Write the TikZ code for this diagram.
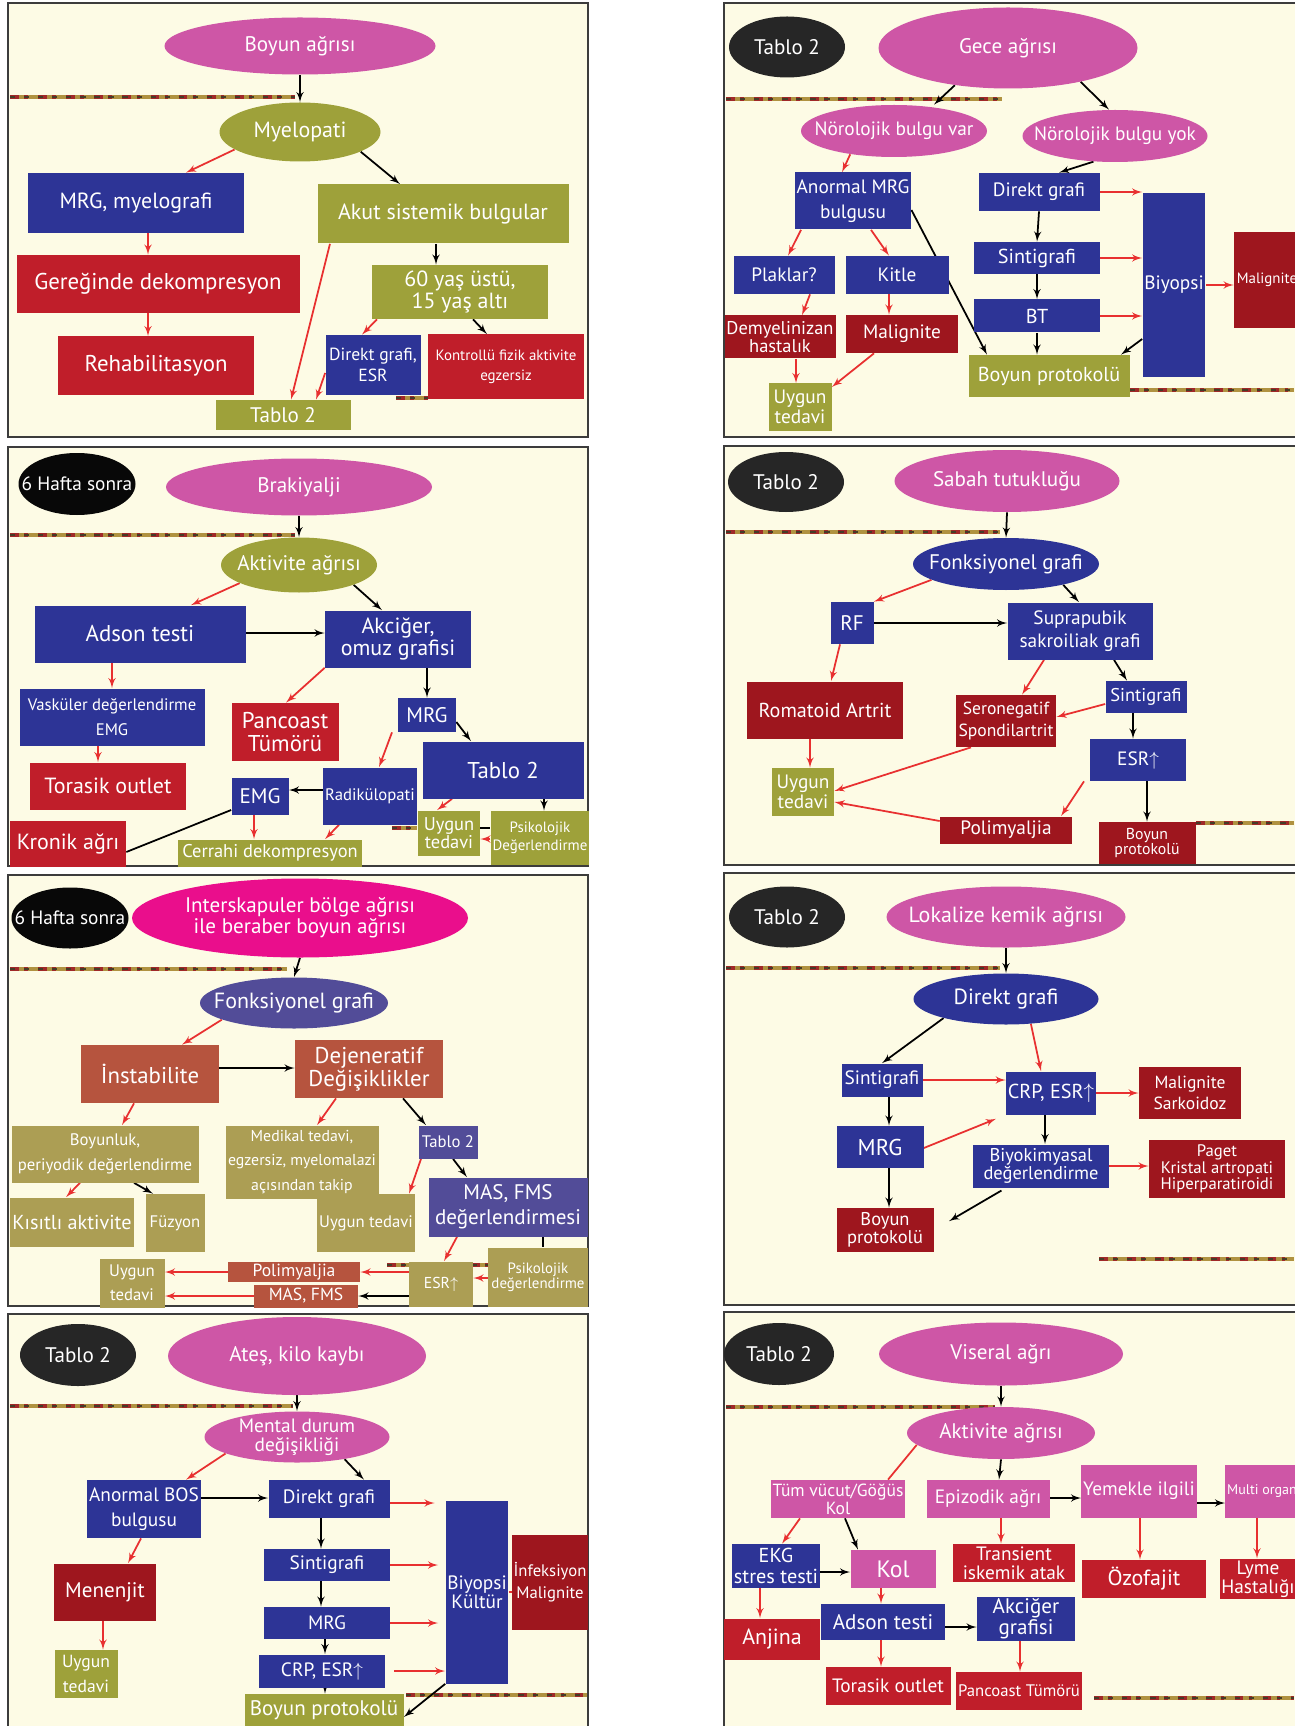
\documentclass[tikz,border=0pt]{standalone}
\usepackage{fontspec}
\setmainfont{PT Sans}
\usetikzlibrary{arrows,shapes.geometric}

\definecolor{pinkE}{RGB}{206,86,166}
\definecolor{magE}{RGB}{234,14,140}
\definecolor{oliveC}{RGB}{158,161,58}
\definecolor{navyC}{RGB}{45,52,150}
\definecolor{purpC}{RGB}{82,76,152}
\definecolor{redC}{RGB}{192,30,42}
\definecolor{drkC}{RGB}{158,22,30}
\definecolor{brownC}{RGB}{182,84,62}
\definecolor{khakiC}{RGB}{172,158,84}
\definecolor{darkE}{RGB}{38,38,38}
\definecolor{blackE}{RGB}{8,8,8}
\definecolor{creamC}{RGB}{253,251,229}
\definecolor{arrowR}{RGB}{232,48,48}
\definecolor{frameC}{RGB}{60,60,60}
\definecolor{stripeA}{RGB}{176,146,64}
\definecolor{stripeB}{RGB}{160,40,40}
\definecolor{stripeC}{RGB}{70,60,40}

\pgfdeclarelayer{bg}
\pgfdeclarelayer{mid}
\pgfsetlayers{bg,mid,main}

% decorative band
\newcommand\stripe[3]{%
  \draw[line width=1.8pt, stripeA] (#1,#3) -- (#2,#3);
  \draw[line width=1.8pt, stripeB, dash pattern=on 5pt off 3pt on 2pt off 6pt] (#1,#3) -- (#2,#3);
  \draw[line width=0.7pt, stripeC, dash pattern=on 3pt off 5pt] (#1,#3) -- (#2,#3);}

\begin{document}
\begin{tikzpicture}[x=0.02cm,y=-0.02cm,>=latex']
	\tikzset{bx/.style = {rectangle,inner sep=1pt,align=center,text=white}}
	\tikzset{el/.style = {ellipse,inner sep=0pt}}
	\tikzset{sz/.style 2 args = {minimum width=#1*0.02cm,minimum height=#2*0.02cm}}
	\tikzset{fs/.style = {font=\fontsize{#1}{#1}\selectfont}}
	\tikzset{every label/.style = {text=white,align=center,inner sep=0pt,fs=12}}
	\tikzset{bluebx/.style = {bx,fill=navyC}}
	\tikzset{redbx/.style = {bx,fill=redC}}
	\tikzset{drkbx/.style = {bx,fill=drkC}}
	\tikzset{olivebx/.style = {bx,fill=oliveC}}
	\tikzset{khakibx/.style = {bx,fill=khakiC}}
	\tikzset{brownbx/.style = {bx,fill=brownC}}
	\tikzset{purpbx/.style = {bx,fill=purpC}}
	\tikzset{pinkbx/.style = {bx,fill=pinkE}}
	\tikzset{panel/.style = {fill=creamC,draw=frameC,line width=0.8pt}}
	\tikzset{blkarrow/.style = {->,draw=black,line width=1pt}}
	\tikzset{redarrow/.style = {->,draw=arrowR,line width=1pt}}
	\tikzset{blkline/.style = {draw=black,line width=1pt}}
	\tikzset{redline/.style = {draw=arrowR,line width=1pt}}

	\useasboundingbox (0,0) rectangle (1294,1726);
	\begin{pgfonlayer}{bg}
		\fill[white] (0,0) rectangle (1294,1726);
		\draw[panel] (8,3) rectangle (588,437);
		\draw[panel] (724,3) rectangle (1300,437);
		\draw[panel] (8,447) rectangle (588,866);
		\draw[panel] (724,446) rectangle (1300,865);
		\draw[panel] (8,875) rectangle (588,1306);
		\draw[panel] (724,873) rectangle (1300,1305);
		\draw[panel] (8,1314) rectangle (588,1730);
		\draw[panel] (724,1312) rectangle (1300,1730);
		\stripe{10}{295}{97} \stripe{396}{428}{398}
		\stripe{726}{1002}{99} \stripe{1130}{1294}{390}
		\stripe{10}{295}{535} \stripe{392}{417}{828}
		\stripe{726}{1000}{532} \stripe{1196}{1294}{823}
		\stripe{10}{287}{969} \stripe{387}{488}{1265}
		\stripe{726}{1000}{968} \stripe{1099}{1294}{1259}
		\stripe{10}{293}{1406} \stripe{406}{587}{1695}
		\stripe{726}{995}{1407} \stripe{1094}{1294}{1698}
	\end{pgfonlayer}

	% Boyun agrisi
	\node[el,fill=pinkE,sz={271}{57},label={center:{Boyun ağrısı}}] (boyun) at (300,46) {};
	\node[el,fill=oliveC,sz={161}{59},label={[fs=12.5]center:{Myelopati}}] (mye) at (300,132) {};
	\node[bluebx,sz={216}{60},fs=12.5] (mrg) at (136,203) {MRG, myelografi};
	\node[olivebx,sz={251}{59},fs=12.5] (akut) at (443,214) {Akut sistemik bulgular};
	\node[redbx,sz={283}{58},fs=13] (gere) at (158,284) {Gereğinde dekompresyon};
	\node[redbx,sz={196}{59},fs=13] (rehab) at (156,366) {Rehabilitasyon};
	\node[olivebx,sz={176}{54},fs=12.5] (yas) at (460,292) {60 yaş üstü,\\15 yaş altı};
	\node[bluebx,sz={95}{60},fs=10] (dgesr) at (373,365) {Direkt grafi,\\[2pt]ESR};
	\node[redbx,sz={156}{65},fs=8.5] (kontrol) at (506,367) {Kontrollü fizik aktivite\\[3pt]egzersiz};
	\node[olivebx,sz={135}{30},fs=12] (tab1) at (283,415) {Tablo 2};

	% Gece agrisi
	\node[el,fill=darkE,sz={116}{61},label={center:{Tablo 2}}] (t2) at (787,47) {};
	\node[el,fill=pinkE,sz={259}{81},label={center:{Gece ağrısı}}] (gece) at (1008,48) {};
	\node[el,fill=pinkE,sz={186}{52},label={[fs=11]center:{Nörolojik bulgu var}}] (nvar) at (894,131) {};
	\node[el,fill=pinkE,sz={185}{52},label={[fs=11]center:{Nörolojik bulgu yok}}] (nyok) at (1115,136) {};
	\node[bluebx,sz={111}{57},fs=11] (amrg) at (853,201) {Anormal MRG\\[3pt]bulgusu};
	\node[bluebx,sz={121}{38},fs=11] (dg2) at (1039,192) {Direkt grafi};
	\node[bluebx,sz={126}{32},fs=11.5] (sin2) at (1037,258) {Sintigrafi};
	\node[bluebx,sz={126}{33},fs=11.5] (bt2) at (1037,316) {BT};
	\node[bluebx,sz={57}{184},fs=11] (biy2) at (1174,285) {Biyopsi};
	\node[drkbx,sz={66}{96},fs=8.5] (mal2r) at (1267,280) {Malignite};
	\node[bluebx,sz={101}{38},fs=11] (plak) at (784,275) {Plaklar?};
	\node[bluebx,sz={103}{38},fs=11] (kitle) at (897,275) {Kitle};
	\node[drkbx,sz={111}{43},fs=10.5] (demy) at (780,337) {Demyelinizan\\hastalık};
	\node[drkbx,sz={112}{38},fs=11] (mal2) at (902,334) {Malignite};
	\node[olivebx,sz={63}{47},fs=11] (uyg2) at (800,407) {Uygun\\tedavi};
	\node[olivebx,sz={161}{42},fs=11.5] (bp2) at (1049,376) {Boyun protokolü};

	% Brakiyalji
	\node[el,fill=blackE,sz={117}{62},label={[fs=11]center:{6 Hafta sonra}}] (haf1) at (77,484) {};
	\node[el,fill=pinkE,sz={266}{57},label={center:{Brakiyalji}}] (brak) at (299,487) {};
	\node[el,fill=oliveC,sz={156}{55},label={center:{Aktivite ağrısı}}] (akt3) at (299,565) {};
	\node[bluebx,sz={211}{57},fs=13] (adson) at (140,634) {Adson testi};
	\node[bluebx,sz={146}{57},fs=12.5] (akc) at (398,639) {Akciğer,\\omuz grafisi};
	\node[bluebx,sz={185}{57},fs=9.5] (vask) at (112,717) {Vasküler değerlendirme\\[5pt]EMG};
	\node[redbx,sz={156}{47},fs=12.5] (toras) at (108,786) {Torasik outlet};
	\node[redbx,sz={107}{58},fs=13] (panc) at (285,732) {Pancoast\\Tümörü};
	\node[bluebx,sz={58}{34},fs=12] (mrg3) at (427,715) {MRG};
	\node[bluebx,sz={161}{57},fs=13] (tab3) at (503,770) {Tablo 2};
	\node[bluebx,sz={91}{57},fs=9.5] (radik) at (370,796) {Radikülopati};
	\node[bluebx,sz={57}{37},fs=12] (emg) at (260,796) {EMG};
	\node[olivebx,sz={184}{27},fs=10.5] (cerr) at (270,853) {Cerrahi dekompresyon};
	\node[redbx,sz={116}{46},fs=12.5] (kron) at (68,844) {Kronik ağrı};
	\node[olivebx,sz={62}{45},fs=10.5] (uyg3) at (449,833) {Uygun\\tedavi};
	\node[olivebx,sz={96}{54},fs=8.5] (psik3) at (540,838) {Psikolojik\\[2pt]Değerlendirme};

	% Sabah tutuklugu
	\node[el,fill=darkE,sz={116}{60},label={center:{Tablo 2}}] (t4) at (786,482) {};
	\node[el,fill=pinkE,sz={225}{62},label={center:{Sabah tutukluğu}}] (sabah) at (1007,481) {};
	\node[el,fill=navyC,sz={186}{52},label={center:{Fonksiyonel grafi}}] (fonk4) at (1006,564) {};
	\node[bluebx,sz={43}{42},fs=12] (rf) at (852,623) {RF};
	\node[bluebx,sz={145}{57},fs=11] (supra) at (1080,631) {Suprapubik\\[2pt]sakroiliak grafi};
	\node[drkbx,sz={156}{57},fs=11.5] (romat) at (825,710) {Romatoid Artrit};
	\node[drkbx,sz={100}{52},fs=10] (seron) at (1006,721) {Seronegatif\\[3pt]Spondilartrit};
	\node[bluebx,sz={81}{32},fs=10.5] (sin4) at (1146,697) {Sintigrafi};
	\node[bluebx,sz={96}{42},fs=11] (esr4) at (1138,760) {ESR$\uparrow$};
	\node[olivebx,sz={62}{48},fs=11] (uyg4) at (803,792) {Uygun\\tedavi};
	\node[drkbx,sz={132}{27},fs=11] (polim4) at (1006,830) {Polimyaljia};
	\node[drkbx,sz={97}{42},fs=9] (bp4) at (1147,843) {Boyun\\protokolü};

	% Interskapuler
	\node[el,fill=blackE,sz={117}{61},label={[fs=11]center:{6 Hafta sonra}}] (haf2) at (70,918) {};
	\node[el,fill=magE,sz={336}{79},label={center:{Interskapuler bölge ağrısı\\ile beraber boyun ağrısı}}] (inter) at (300,918) {};
	\node[el,fill=purpC,sz={188}{51},label={[fs=12.5]center:{Fonksiyonel grafi}}] (fonk5) at (294,1003) {};
	\node[brownbx,sz={138}{58},fs=13] (insta) at (150,1074) {İnstabilite};
	\node[brownbx,sz={148}{58},fs=13] (dejen) at (369,1069) {Dejeneratif\\Değişiklikler};
	\node[khakibx,sz={187}{57},fs=9.5] (boyl) at (105,1154) {Boyunluk,\\[5pt]periyodik değerlendirme};
	\node[khakibx,sz={93}{58},fs=9.5] (uyg5a) at (366,1223) {Uygun tedavi};
	\node[khakibx,sz={153}{73},fs=9] (medik) at (302,1162) {Medikal tedavi,\\[5pt]egzersiz, myelomalazi\\[5pt]açısından takip};
	\node[purpbx,sz={59}{33},fs=9.5] (tab5) at (448,1142) {Tablo 2};
	\node[khakibx,sz={124}{49},fs=11.5] (kisit) at (72,1222) {Kısıtlı aktivite};
	\node[khakibx,sz={59}{58},fs=9.5] (fuzy) at (175,1223) {Füzyon};
	\node[purpbx,sz={159}{59},fs=12] (masd) at (508,1207) {MAS, FMS\\[2pt]değerlendirmesi};
	\node[khakibx,sz={64}{45},fs=9] (esr5) at (441,1284) {ESR$\uparrow$};
	\node[khakibx,sz={100}{59},fs=8.5] (psik5) at (538,1277) {Psikolojik\\değerlendirme};
	\node[brownbx,sz={132}{19},fs=10] (polim5) at (294,1272) {Polimyaljia};
	\node[brownbx,sz={104}{23},fs=10] (masf) at (306,1296) {MAS, FMS};
	\node[khakibx,sz={65}{49},fs=9.5] (uyg5b) at (132,1283) {Uygun\\[4pt]tedavi};

	% Lokalize kemik agrisi
	\node[el,fill=darkE,sz={116}{61},label={center:{Tablo 2}}] (t6) at (787,917) {};
	\node[el,fill=pinkE,sz={239}{61},label={[fs=12.5]center:{Lokalize kemik ağrısı}}] (lok) at (1006,917) {};
	\node[el,fill=navyC,sz={185}{51},label={[fs=12.5]center:{Direkt grafi}}] (dg6) at (1006,999) {};
	\node[bluebx,sz={81}{33},fs=11] (sin6) at (882,1080) {Sintigrafi};
	\node[bluebx,sz={86}{43},fs=11.5] (crp6) at (1051,1093) {CRP, ESR$\uparrow$};
	\node[bluebx,sz={87}{42},fs=13] (mrg6) at (880,1147) {MRG};
	\node[drkbx,sz={102}{52},fs=10] (malsk) at (1190,1093) {Malignite\\[2pt]Sarkoidoz};
	\node[bluebx,sz={136}{43},fs=10.5] (biyo) at (1041,1166) {Biyokimyasal\\değerlendirme};
	\node[drkbx,sz={136}{58},fs=9.5] (paget) at (1217,1169) {Paget\\Kristal artropati\\Hiperparatiroidi};
	\node[drkbx,sz={97}{44},fs=10.5] (bp6) at (885,1230) {Boyun\\protokolü};

	% Ates, kilo kaybi
	\node[el,fill=darkE,sz={116}{62},label={center:{Tablo 2}}] (t7) at (78,1355) {};
	\node[el,fill=pinkE,sz={258}{78},label={center:{Ateş, kilo kaybı}}] (ates) at (297,1356) {};
	\node[el,fill=pinkE,sz={185}{51},label={[fs=11]center:{Mental durum\\değişikliği}}] (mental) at (297,1437) {};
	\node[bluebx,sz={111}{58},fs=11] (abos) at (144,1509) {Anormal BOS\\[3pt]bulgusu};
	\node[bluebx,sz={121}{38},fs=11] (dg7) at (329,1499) {Direkt grafi};
	\node[bluebx,sz={126}{32},fs=11] (sin7) at (327,1565) {Sintigrafi};
	\node[bluebx,sz={126}{32},fs=11] (mrg7) at (327,1623) {MRG};
	\node[bluebx,sz={126}{33},fs=11] (crp7) at (322,1671) {CRP, ESR$\uparrow$};
	\node[olivebx,sz={159}{32},fs=12] (bp7) at (324,1710) {Boyun protokolü};
	\node[bluebx,sz={57}{183},fs=11] (biy7) at (477,1592) {Biyopsi\\Kültür};
	\node[drkbx,sz={75}{95},fs=9.5] (infek) at (550,1582) {İnfeksiyon\\[3pt]Malignite};
	\node[drkbx,sz={102}{57},fs=12] (menen) at (105,1592) {Menenjit};
	\node[olivebx,sz={63}{48},fs=10] (uyg7) at (86,1674) {Uygun\\[4pt]tedavi};

	% Viseral agri
	\node[el,fill=darkE,sz={110}{62},label={center:{Tablo 2}}] (t8) at (779,1354) {};
	\node[el,fill=pinkE,sz={244}{63},label={center:{Viseral ağrı}}] (visr) at (1001,1354) {};
	\node[el,fill=pinkE,sz={188}{52},label={center:{Aktivite ağrısı}}] (akt8) at (1001,1433) {};
	\node[pinkbx,sz={125}{38},fs=10] (tum) at (838,1499) {Tüm vücut/Göğüs\\Kol};
	\node[pinkbx,sz={123}{38},fs=11] (epiz) at (988,1499) {Epizodik ağrı};
	\node[pinkbx,sz={106}{53},fs=11] (yem) at (1139,1491) {Yemekle ilgili};
	\node[pinkbx,sz={70}{53},fs=8] (multi) at (1262,1491) {Multi organ};
	\node[bluebx,sz={88}{44},fs=11.5] (ekg) at (776,1566) {EKG\\stres testi};
	\node[pinkbx,sz={85}{38},fs=13.5] (kol) at (893,1569) {Kol};
	\node[redbx,sz={122}{38},fs=11] (trans) at (1014,1563) {Transient\\iskemik atak};
	\node[redbx,sz={124}{38},fs=12.5] (ozof) at (1144,1579) {Özofajit};
	\node[redbx,sz={70}{38},fs=11] (lyme) at (1258,1579) {Lyme\\Hastalığı};
	\node[redbx,sz={96}{41},fs=12.5] (anj) at (772,1639) {Anjina};
	\node[bluebx,sz={124}{36},fs=12] (adson8) at (883,1622) {Adson testi};
	\node[bluebx,sz={98}{41},fs=12] (akc8) at (1026,1619) {Akciğer\\grafisi};
	\node[redbx,sz={125}{38},fs=11] (toras8) at (888,1686) {Torasik outlet};
	\node[redbx,sz={124}{38},fs=9.5] (panc8) at (1019,1691) {Pancoast Tümörü};

	\begin{pgfonlayer}{mid}
		% Boyun agrisi
		\path (boyun.south) edge[blkarrow] (mye.north);
		\path (mye.195) edge[redarrow] (186,0 |- mrg.north);
		\path (mye.-18) edge[blkarrow] (400,0 |- akut.north);
		\path (148,0 |- mrg.south) edge[redarrow] (148,0 |- gere.north);
		\path (148,0 |- gere.south) edge[redarrow] (148,0 |- rehab.north);
		\path (436,0 |- akut.south) edge[blkarrow] (436,0 |- yas.north);
		\path (330,0 |- akut.south) edge[redarrow] (291,0 |- tab1.north);
		\path (377,0 |- yas.south) edge[redarrow] (362,0 |- dgesr.north);
		\path (473,0 |- yas.south) edge[blkarrow] (487,0 |- kontrol.north);
		\path (dgesr.west |- 0,373) edge[redarrow] (316,0 |- tab1.north);
		% Gece agrisi
		\path (gece.215) edge[blkarrow] (934,0 |- nvar.north);
		\path (gece.-25) edge[blkarrow] (1109,0 |- nyok.north);
		\path (nvar.208) edge[redarrow] (842,0 |- amrg.north);
		\path (nyok.230) edge[blkarrow] (1059,0 |- dg2.north);
		\path (dg2.east) edge[redarrow] (biy2.west |- dg2.east);
		\path (sin2.east) edge[redarrow] (biy2.west |- sin2.east);
		\path (bt2.east) edge[redarrow] (biy2.west |- bt2.east);
		\path (dg2.south) edge[blkarrow] (sin2.north);
		\path (sin2.south) edge[blkarrow] (bt2.north);
		\path (bt2.south) edge[blkarrow] (bt2.south |- bp2.north);
		\path (biy2.west |- 0,339) edge[blkarrow] (1121,0 |- bp2.north);
		\path (biy2.east) edge[redarrow] (mal2r.west |- biy2.east);
		\path (801,0 |- amrg.south) edge[redarrow] (788,0 |- plak.north);
		\path (871,0 |- amrg.south) edge[redarrow] (889,0 |- kitle.north);
		\path (amrg.east |- 0,210) edge[blkarrow] (987,0 |- bp2.north);
		\path (810,0 |- plak.south) edge[redarrow] (802,0 |- demy.north);
		\path (889,0 |- kitle.south) edge[redarrow] (889,0 |- mal2.north);
		\path (796,0 |- demy.south) edge[redarrow] (796,0 |- uyg2.north);
		\path (874,0 |- mal2.south) edge[redarrow] (uyg2.east |- 0,387);
		% Brakiyalji
		\path (brak.south) edge[blkarrow] (akt3.north);
		\path (akt3.197) edge[redarrow] (191,0 |- adson.north);
		\path (akt3.-20) edge[blkarrow] (382,0 |- akc.north);
		\path (adson.east |- 0,633) edge[blkarrow] (akc.west |- 0,633);
		\path (112,0 |- adson.south) edge[redarrow] (112,0 |- vask.north);
		\path (98,0 |- vask.south) edge[redarrow] (98,0 |- toras.north);
		\path (akc.south west) edge[redarrow] (286,0 |- panc.north);
		\path (427,0 |- akc.south) edge[blkarrow] (mrg3.north);
		\path (mrg3.east |- 0,722) edge[blkarrow] (471,0 |- tab3.north);
		\path (392,0 |- mrg3.south) edge[redarrow] (379,0 |- radik.north);
		\path (radik.west |- 0,790) edge[blkarrow] (emg.east |- 0,790);
		\path (254,0 |- emg.south) edge[redarrow] (254,0 |- cerr.north);
		\path (339,0 |- radik.south) edge[redarrow] (325,0 |- cerr.north);
		\path[blkline] (emg.west |- 0,810) -- (kron.east |- 0,852);
		\path (452,0 |- tab3.south) edge[redarrow] (437,0 |- uyg3.north);
		\path (544,0 |- tab3.south) edge[blkarrow] (544,0 |- psik3.north);
		\path[blkline] (uyg3.east |- 0,828) -- (psik3.west |- 0,828);
		\path (psik3.west |- 0,839) edge[redarrow] (uyg3.east |- 0,839);
		% Sabah tutuklugu
		\path (sabah.south) edge[blkarrow] (fonk4.north);
		\path (fonk4.192) edge[redarrow] (rf.north east);
		\path (fonk4.-20) edge[blkarrow] (1079,0 |- supra.north);
		\path (rf.east) edge[blkarrow] (supra.west |- rf.east);
		\path (840,0 |- rf.south) edge[redarrow] (831,0 |- romat.north);
		\path (1044,0 |- supra.south) edge[redarrow] (1022,0 |- seron.north);
		\path (1114,0 |- supra.south) edge[blkarrow] (1127,0 |- sin4.north);
		\path (sin4.west |- 0,704) edge[redarrow] (seron.east |- 0,717);
		\path (1133,0 |- sin4.south) edge[blkarrow] (1133,0 |- esr4.north);
		\path (810,0 |- romat.south) edge[redarrow] (810,0 |- uyg4.north);
		\path (971,0 |- seron.south) edge[redarrow] (uyg4.east |- 0,791);
		\path (1084,0 |- esr4.south) edge[redarrow] (1061,0 |- polim4.north);
		\path (1147,0 |- esr4.south) edge[blkarrow] (bp4.north);
		\path (polim4.west |- 0,821) edge[redarrow] (uyg4.east |- 0,802);
		% Interskapuler
		\path (inter.south) edge[blkarrow] (fonk5.north);
		\path (fonk5.193) edge[redarrow] (182,0 |- insta.north);
		\path (insta.east |- 0,1068) edge[blkarrow] (dejen.west |- 0,1068);
		\path (134,0 |- insta.south) edge[redarrow] (122,0 |- boyl.north);
		\path (336,0 |- dejen.south) edge[redarrow] (317,0 |- medik.north);
		\path (403,0 |- dejen.south) edge[blkarrow] (426,0 |- tab5.north);
		\path (80,0 |- boyl.south) edge[redarrow] (66,0 |- kisit.north);
		\path (134,0 |- boyl.south) edge[blkarrow] (153,0 |- fuzy.north);
		\path (421,0 |- tab5.south) edge[redarrow] (409,0 |- uyg5a.north);
		\path (453,0 |- tab5.south) edge[blkarrow] (467,0 |- masd.north);
		\path (457,0 |- masd.south) edge[redarrow] (444,0 |- esr5.north);
		\path[blkline] (543,0 |- masd.south) -- (543,0 |- psik5.north);
		\path (psik5.west |- 0,1278) edge[redarrow] (esr5.east |- 0,1278);
		\path (esr5.west |- polim5.east) edge[redarrow] (polim5.east);
		\path (esr5.west |- masf.east) edge[blkarrow] (masf.east);
		\path (polim5.west) edge[redarrow] (uyg5b.east |- polim5.west);
		\path (masf.west) edge[redarrow] (uyg5b.east |- masf.west);
		% Lokalize kemik agrisi
		\path (lok.south) edge[blkarrow] (dg6.north);
		\path (dg6.197) edge[blkarrow] (sin6.north);
		\path (dg6.-45) edge[redarrow] (1041,0 |- crp6.north);
		\path (sin6.east) edge[redarrow] (crp6.west |- sin6.east);
		\path (889,0 |- sin6.south) edge[blkarrow] (889,0 |- mrg6.north);
		\path (mrg6.east |- 0,1148) edge[redarrow,shorten >=6pt] (crp6.south west);
		\path (crp6.east) edge[redarrow] (malsk.west |- crp6.east);
		\path (1045,0 |- crp6.south) edge[blkarrow] (1045,0 |- biyo.north);
		\path (biyo.east) edge[redarrow] (paget.west |- biyo.east);
		\path (889,0 |- mrg6.south) edge[blkarrow] (889,0 |- bp6.north);
		\path (1006,0 |- biyo.south) edge[blkarrow,shorten <=3pt,shorten >=10pt] (bp6.east);
		% Ates, kilo kaybi
		\path (ates.south) edge[blkarrow] (mental.north);
		\path (mental.193) edge[redarrow] (186,0 |- abos.north);
		\path (mental.-25) edge[blkarrow] (364,0 |- dg7.north);
		\path (abos.east |- 0,1498) edge[blkarrow] (dg7.west |- 0,1498);
		\path (dg7.east |- 0,1503) edge[redarrow,shorten >=6pt] (biy7.west |- 0,1503);
		\path (sin7.east) edge[redarrow,shorten >=4pt] (biy7.west |- sin7.east);
		\path (mrg7.east) edge[redarrow,shorten >=4pt] (biy7.west |- mrg7.east);
		\path (crp7.east) edge[redarrow,shorten <=5pt] (biy7.west |- crp7.east);
		\path (321,0 |- dg7.south) edge[blkarrow] (321,0 |- sin7.north);
		\path (321,0 |- sin7.south) edge[blkarrow] (321,0 |- mrg7.north);
		\path (325,0 |- mrg7.south) edge[blkarrow] (325,0 |- crp7.north);
		\path (325,0 |- crp7.south) edge[blkarrow] (325,0 |- bp7.north);
		\path (biy7.south west) edge[blkarrow] (bp7.east |- 0,1717);
		\path[redline] (biy7.east |- 0,1592) -- (infek.west |- 0,1592);
		\path (141,0 |- abos.south) edge[redarrow] (128,0 |- menen.north);
		\path (103,0 |- menen.south) edge[redarrow] (103,0 |- uyg7.north);
		% Viseral agri
		\path (visr.south) edge[blkarrow] (akt8.north);
		\path[redline] (akt8.188) -- (888,0 |- tum.north);
		\path (akt8.south) edge[blkarrow] (999,0 |- epiz.north);
		\path (epiz.east |- 0,1498) edge[blkarrow] (yem.west |- 0,1498);
		\path (yem.east |- 0,1503) edge[blkarrow] (multi.west |- 0,1503);
		\path (800,0 |- tum.south) edge[redarrow] (782,0 |- ekg.north);
		\path (845,0 |- tum.south) edge[blkarrow] (858,0 |- kol.north);
		\path (1001,0 |- epiz.south) edge[redarrow] (1001,0 |- trans.north);
		\path (1140,0 |- yem.south) edge[redarrow] (1140,0 |- ozof.north);
		\path (1257,0 |- multi.south) edge[redarrow] (1257,0 |- lyme.north);
		\path (ekg.east |- 0,1572) edge[blkarrow] (kol.west |- 0,1572);
		\path (760,0 |- ekg.south) edge[redarrow] (760,0 |- anj.north);
		\path (881,0 |- kol.south) edge[redarrow] (881,0 |- adson8.north);
		\path (adson8.east |- 0,1627) edge[blkarrow] (akc8.west |- 0,1627);
		\path (881,0 |- adson8.south) edge[redarrow] (881,0 |- toras8.north);
		\path (1020,0 |- akc8.south) edge[redarrow] (1020,0 |- panc8.north);
	\end{pgfonlayer}
\end{tikzpicture}
\end{document}
